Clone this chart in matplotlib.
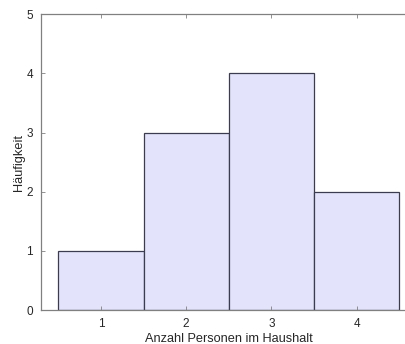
import matplotlib.pyplot as plt

plt.rcParams['font.family'] = ['Liberation Sans', 'DejaVu Sans']

# Haushaltsgröße und Häufigkeit
personen = [1, 2, 3, 4]
haeufigkeit = [1, 3, 4, 2]

fig = plt.figure(figsize=(4.06, 3.44), dpi=100)
ax = fig.add_axes([0.1017, 0.0988, 0.9234, 0.8596])

ax.bar(personen, haeufigkeit, width=1.0, color='#e3e3fb', edgecolor='#3c3c50', linewidth=0.9)

ax.set_xlim(0.3, 4.7)
ax.set_ylim(0, 5)
ax.set_xticks(personen)
ax.set_yticks(range(0, 6))
ax.tick_params(direction='in', top=True, right=True, labelsize=8.5, colors='#262626',
               length=3, width=0.6, pad=6)
ax.tick_params(axis='both', color='#808080')
for s in ax.spines.values():
    s.set_color('#808080')
    s.set_linewidth(0.9)

ax.set_xlabel('Anzahl Personen im Haushalt', fontsize=9.2, color='#262626', labelpad=2)
ax.set_ylabel('Häufigkeit', fontsize=9.2, color='#262626', labelpad=1)

fig.savefig('out.png', dpi=100)
